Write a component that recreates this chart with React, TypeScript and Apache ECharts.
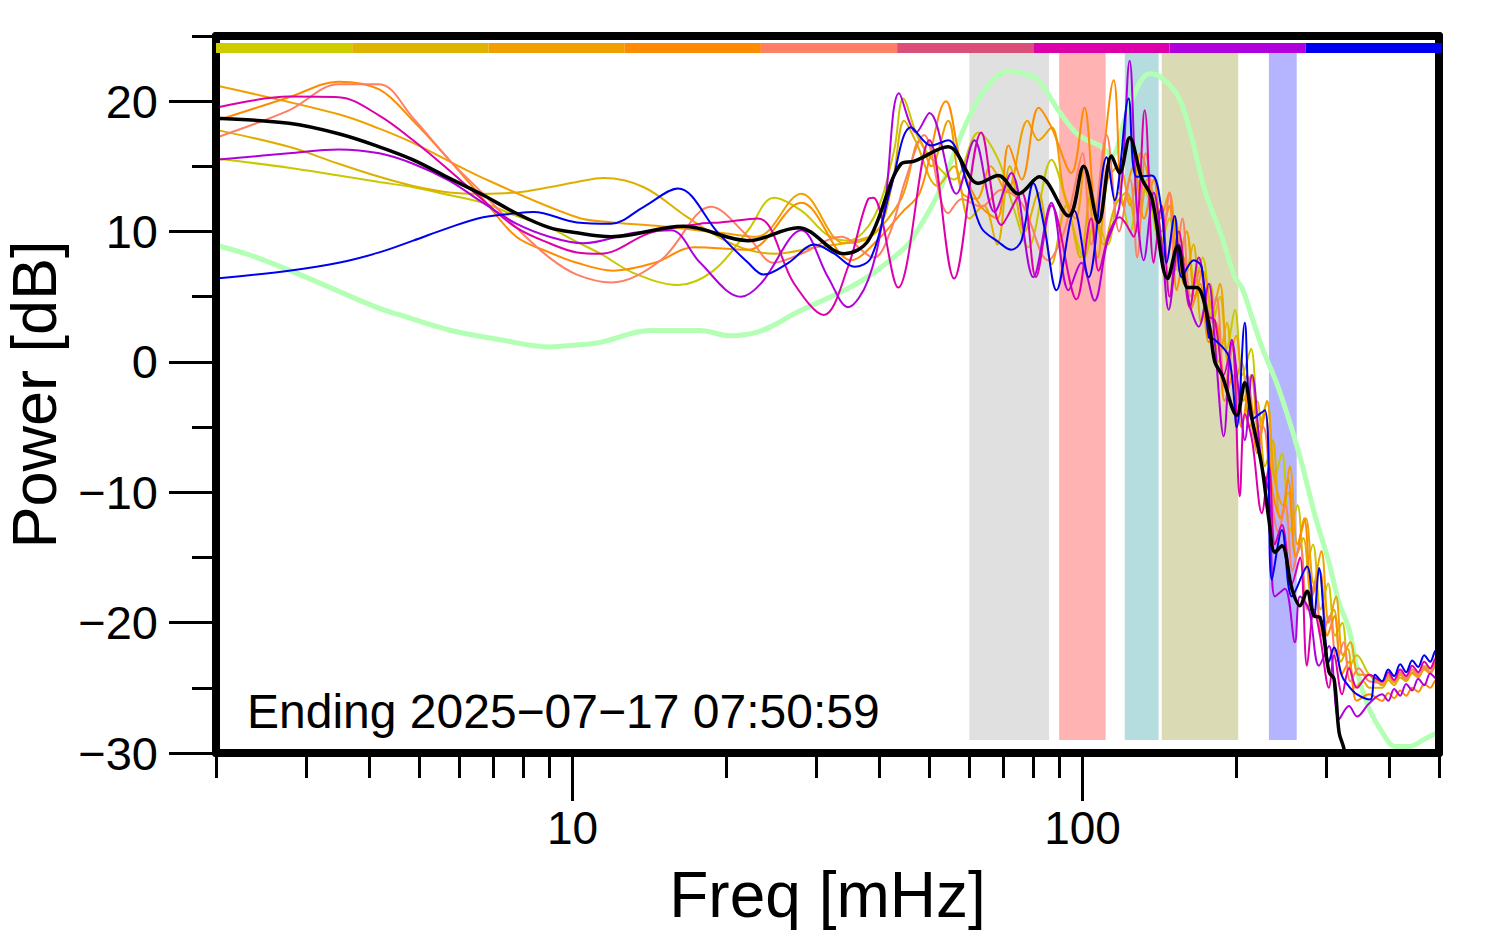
import React, { useEffect, useRef } from 'react';
import * as echarts from 'echarts';

const FONT = '"Liberation Sans", Arial, Helvetica, sans-serif';

// layout
const W = 1494;
const H = 952;
const GRID_LEFT = 216;
const GRID_RIGHT = 55;
const GRID_TOP = 36;
const GRID_BOTTOM = 199;

// axes
const X_MIN = 2;
const X_MAX = 500;
const Y_MIN = -30;
const Y_MAX = 25;
const X_TICKS_MINOR = [2, 3, 4, 5, 6, 7, 8, 9, 20, 30, 40, 50, 60, 70, 80, 90, 200, 300, 400, 500];
const X_TICKS_MAJOR = [10, 100];
const Y_TICKS_MAJOR = [-30, -20, -10, 0, 10, 20];
const Y_TICKS_MINOR = [-25, -15, -5, 5, 15, 25];

// shaded frequency bands [from, to] mHz
const BAND_RANGES = [[60, 86], [90, 111], [121, 141], [143, 202], [232, 263]];
const BAND_COLORS = ['#E0E0E0', '#FFB3B3', '#B5DCDF', '#DADAB5', '#B5B5FF'];
const BAND_BOTTOM = -29;
const BAND_TOP = 23.7;

// colour strip at the top (one per trace)
const STRIP_COLORS = ['#CCCC00', '#DDB300', '#F0A000', '#FF8C00', '#FF7F66', '#DA4F7A', '#DD00AA', '#B000DB', '#0000F0'];

const ANNOTATION = 'Ending 2025\u221207\u221217 07:50:59';

// high-frequency tail frequencies (shared)
const TAIL_F = [386.7, 397.6, 408.3, 419.6, 431.1, 443.0, 455.2, 467.7, 480.5, 493.7, 500];

const GREEN_PTS = [
  [2, 8.95], [2.33, 8.2], [2.92, 6.7], [4.12, 4.2], [4.59, 3.6], [5.73, 2.45], [7.22, 1.7], [9.01, 1.15], [10.2, 1.3],
  [11.35, 1.5], [14.2, 2.4], [17.8, 2.4], [20.4, 2.0], [23.1, 2.3], [25.6, 3.1], [27.2, 3.7], [34.1, 5.5], [38.5, 6.7],
  [44.1, 8.5], [46.1, 9.3], [52.1, 12.9], [58.7, 18.0], [64.2, 20.8], [71.6, 22.3], [78.3, 22.0], [82.0, 21.6],
  [89.7, 19.3], [98.2, 17.4], [109, 16.5], [114, 15.8], [123.1, 19.5], [135.4, 22.1], [142.9, 21.8], [154.4, 20.3],
  [163.7, 17.2], [173.6, 13.2], [187.6, 9.6], [198.9, 6.5], [205.3, 5.7], [215, 3.4], [224.7, 1.15], [242.7, -2.1],
  [265.7, -7.0], [285.7, -11.8], [304.3, -15.4], [318.4, -18.5], [333.1, -20.5], [348.5, -24.3], [364.7, -26.6],
  [386.7, -28.4], [410.2, -29.5], [437, -29.5], [469.8, -28.9], [500, -28.4]
];

const OLIVE_PTS = [
  [2, 15.6], [2.78, 14.9], [3.48, 14.3], [4.18, 13.8], [4.87, 13.4], [5.73, 12.8], [6.68, 12.2], [7.76, 11.2], [9.01, 10.3],
  [10.2, 9.2], [11.35, 8.3], [13.2, 6.8], [16.1, 5.9], [18.9, 7.0], [22.1, 10.1], [24.8, 12.6], [28.1, 11.6], [31.7, 9.7],
  [34.7, 9.3], [39, 11.1], [42.7, 16.2], [44.5, 20.2], [47.6, 17.2], [52, 15], [56, 14], [62.5, 17.6], [68.4, 15.5],
  [73, 12], [78.3, 8.8], [86.9, 15.5], [93.9, 11.6], [100.9, 8], [106, 11], [112, 9], [118, 13], [124, 10], [130, 14],
  [136, 12], [142, 9], [148, 11], [154, 7], [160, 10], [166, 6], [172, 8], [180, 3], [186, 5], [192, 1], [199, 4],
  [206, -1], [214, 1], [222, -5], [230, -3], [238, -9], [246, -7], [255, -13], [264, -11], [273, -16], [283, -14],
  [293, -19], [303, -17], [313, -21], [323, -20], [333, -23.5], [345, -22.5], [365, -24]
];
const OLIVE_TAIL = [-24.7, -24.1, -24.5, -23.9, -24.2, -23.6, -23.9, -23.3, -23.6, -23.0, -23.2];

const GOLD_PTS = [
  [2, 17.8], [2.78, 16.5], [3.48, 15.2], [4.18, 14.2], [4.87, 13.5], [5.73, 13.0], [6.68, 12.9], [7.76, 13.0], [9.01, 13.4],
  [10.2, 13.8], [11.5, 14.1], [13.8, 13.4], [16.8, 11.1], [19.5, 9.5], [22.1, 8.6], [25, 8.3], [30, 8.8], [35, 9.2],
  [39.7, 10.1], [42.5, 14], [44.7, 18.5], [47, 17], [52, 13.5], [56, 15], [60, 11], [64, 12], [68, 9], [72, 15],
  [77, 10], [82, 13], [87, 7.5], [93, 12], [99, 8], [104, 13], [110, 9], [116, 12], [122, 13], [128, 10], [134, 14],
  [140, 11], [146, 8], [152, 11], [158, 6], [165, 9], [171, 3], [178, 6], [185, 0], [192, 3], [198, -2], [205, 0],
  [213, -5], [220, -3], [228, -8], [236, -6], [244, -12], [253, -10], [262, -15], [271, -13.5], [281, -18], [291, -16],
  [301, -20], [311, -19], [321, -23], [331, -22], [342, -25], [355, -24.5], [365, -25]
];
const GOLD_TAIL = [-25.0, -24.4, -24.8, -24.2, -24.5, -23.9, -24.2, -23.6, -23.9, -23.3, -23.5];

const AMBER_PTS = [
  [2, 21.2], [3.48, 19.0], [4.18, 17.9], [4.87, 16.8], [6.68, 14.1], [10.2, 11.1], [12, 10.7], [14.9, 10.4], [19.5, 9.9],
  [23, 9.6], [28.1, 12.9], [34.1, 9.1], [38, 9.5], [44.1, 12.5], [48, 17], [50.5, 15], [54.5, 18.5], [58, 13],
  [62, 12.5], [66, 15], [71, 13], [78, 18.5], [82, 17], [87, 18], [92, 13], [97, 11], [101, 15], [107, 8], [112, 14],
  [118, 15], [124, 12], [130, 16], [136, 13.5], [142, 11], [148, 13], [154, 8], [160, 10], [166, 5], [172, 7], [180, 4],
  [186, 6], [193, 0], [200, 2], [207, -3], [214, -1], [222, -6], [230, -3], [238, -9], [247, -11], [255, -8],
  [264, -14], [274, -12], [284, -17], [294, -14.5], [304, -20], [314, -18], [324, -22.5], [335, -21.5], [348, -24], [365, -24]
];
const AMBER_TAIL = [-24.8, -24.2, -24.6, -24.0, -24.4, -23.8, -24.1, -23.5, -23.8, -23.2, -23.4];

const ORANGE_PTS = [
  [2, 18.5], [2.78, 20.3], [3.48, 21.5], [4.18, 20.9], [4.87, 18.5], [5.73, 15.5], [6.68, 12.5], [7.76, 9.6], [9.01, 8.4],
  [10.2, 7.6], [12, 7.0], [14.5, 7.6], [17.3, 8.8], [22.1, 8.6], [28.1, 12.2], [35.2, 7.8], [40, 9.5], [44.1, 11.4],
  [48, 13], [54, 20.0], [58, 15], [63, 12], [68, 11], [71.6, 16.6], [76, 14], [82, 19.5], [86.9, 18], [95.1, 14.5],
  [100.9, 19.5], [106, 12], [115.1, 21.6], [120, 12], [126, 15], [132, 11], [138, 14], [143, 10], [148, 12], [153, 5.5],
  [158, 8], [163, 4], [170, 6], [177, 1.5], [183, 3], [190, -3], [197, -1], [205, -5], [212, -2], [220, -7], [228, -4],
  [236, -10], [245, -12], [253, -9], [262, -15], [272, -12], [282, -18], [292, -16], [302, -21], [312, -19.5],
  [322, -24], [333, -23], [345, -26], [365, -25.5]
];
const ORANGE_TAIL = [-26.0, -25.4, -25.8, -25.2, -25.6, -25.0, -25.3, -24.7, -25.0, -24.4, -24.5];

const SALMON_PTS = [
  [2, 17.2], [2.78, 19.3], [3.48, 21.3], [4.18, 21.3], [4.87, 18.7], [5.73, 15.5], [6.68, 12.9], [7.76, 10.3], [9.01, 8.0],
  [10.2, 6.7], [11.9, 6.1], [14.9, 7.8], [18.7, 11.9], [22.1, 9.6], [24.8, 7.6], [28.1, 8.3], [33.6, 9.6], [39.0, 8.0],
  [42, 10], [45, 14], [48.9, 17.4], [54.5, 11.4], [58, 12.5], [63.3, 11.9], [69.3, 13.2], [75.9, 12.2], [85.7, 7.8],
  [92, 10], [96, 13], [100, 16], [104, 9], [111.5, 17.4], [118, 10], [124, 14], [128, 8], [133, 16], [138, 12],
  [143, 9], [148, 13], [152, 7], [157, 11], [163, 5], [170, 7], [177, 3], [183, 5], [190, -2], [197, 1], [203, -3],
  [210, -1], [218, -6], [226, -5], [234, -10], [242, -13], [250, -11], [258, -16], [267, -14], [276, -19], [285, -17],
  [295, -21], [305, -19.5], [315, -23], [325, -21.5], [335, -24.5], [348, -23.5], [365, -24.5]
];
const SALMON_TAIL = [-24.6, -24.0, -24.5, -23.8, -24.3, -23.6, -24.0, -23.4, -23.8, -23.1, -23.3];

const MAGENTA_PTS = [
  [2, 19.5], [2.78, 20.35], [3.48, 20.3], [4.18, 18.9], [4.87, 17.0], [5.73, 14.7], [6.68, 12.4], [7.76, 10.3], [9.01, 9.1],
  [10.2, 8.4], [11.35, 8.3], [14.2, 9.9], [17.8, 10.6], [19.5, 10.7], [23.1, 11.0], [27.2, 6.0], [31.1, 3.6], [34.7, 7.3],
  [38.0, 12.5], [38.9, 12.6], [43.5, 5.7], [50.1, 17.0], [56.0, 6.4], [63.3, 17.6], [69.3, 10.5], [75.9, 13], [81, 6.5],
  [87, 12], [97.3, 4.8], [104, 11], [107.5, 7.0], [113, 10], [118.2, 11.1], [125.9, 9.6], [132.4, 19.3], [137.9, 7.6],
  [142.9, 12], [148.2, 5.0], [154.4, 10], [162.3, 4.2], [169, 8], [176.8, 3.5], [181.7, 3.2], [189.2, -1], [196.2, 1.5],
  [203.4, -10.3], [208.1, -4], [215, -6], [224.7, -11.6], [232, -8], [238.4, -14], [246, -12.5], [257.4, -17],
  [266.9, -15], [275.5, -23.3], [284.4, -19], [292.2, -21], [304.3, -25], [311.3, -22.5], [322.8, -25.5], [333.1, -23.5],
  [345.4, -25], [364.7, -24]
];
const MAGENTA_TAIL = [-24.5, -23.8, -24.4, -23.6, -24.1, -23.3, -23.8, -23.0, -23.5, -22.7, -23.0];

const PURPLE_PTS = [
  [2, 15.5], [2.78, 16.0], [3.48, 16.3], [4.18, 16.0], [4.87, 15.2], [5.73, 13.9], [6.68, 12.2], [7.76, 10.6], [9.01, 9.6],
  [10.5, 9.1], [13.2, 9.9], [15.6, 10.1], [17.8, 7.6], [21.4, 5.0], [23.4, 6.0], [28.1, 10.1], [31.7, 6.5], [34.7, 4.2],
  [38.0, 6.3], [40.8, 11.5], [43.7, 20.6], [47.2, 17.6], [50.1, 19.1], [56.6, 12.9], [61.4, 17.0], [67.2, 11.5],
  [72.5, 14.5], [80.1, 6.5], [86.9, 12.2], [93.9, 5.5], [99.5, 7.6], [105.6, 4.7], [111.5, 9], [118.2, 12], [123.7, 23.1],
  [127.7, 12], [131.8, 7.8], [137.9, 13], [143, 9], [147.6, 4.0], [154.4, 9], [162, 4.5], [169, 2.7], [176.8, 6],
  [181.7, 1.5], [189.2, -5.7], [196.2, 1.7], [203.4, -3], [208.1, -6], [215, -1], [224.7, -8], [232, -10], [238.4, -18],
  [249.4, -17.4], [260.9, -21.5], [266.9, -18], [278, -19], [290.9, -23.3], [304.3, -21.8], [318.4, -27.4],
  [333.1, -26.4], [345.4, -27.2], [364.7, -26.2]
];
const PURPLE_TAIL = [-25.5, -26.0, -25.1, -25.6, -24.7, -25.2, -24.3, -24.8, -23.9, -24.3, -23.6];

const BLUE_PTS = [
  [2, 6.4], [2.78, 7.0], [3.48, 7.6], [4.18, 8.4], [4.87, 9.3], [5.73, 10.3], [6.68, 11.1], [7.76, 11.4], [8.38, 11.5],
  [10.2, 10.7], [11.9, 10.6], [13.8, 11.9], [16.1, 13.3], [19.3, 9.9], [22.1, 7.6], [23.7, 6.7], [26.5, 7.6], [29.8, 9.0],
  [32.6, 8.3], [35.7, 7.3], [38.5, 8.0], [42.2, 13.5], [46.1, 18.0], [50.5, 16.6], [54.5, 17.0], [59.7, 13.4],
  [63.3, 10.3], [68.4, 9.2], [72.5, 8.6], [75.9, 9.3], [80.1, 13.7], [84.2, 10.3], [88.9, 5.5], [96.4, 11.6],
  [102.8, 6.5], [111.5, 15.7], [115.6, 12.4], [123.1, 20.2], [127.7, 14.2], [136.7, 14.3], [142.9, 11.6], [146.2, 7.6],
  [151.6, 11.2], [156.5, 6.5], [165.2, 7.8], [171.2, 7.3], [176.8, 1.9], [181.7, 1.7], [193.6, 0.4], [200.7, -5.0],
  [208.1, 3.0], [215, -4.4], [227.8, -3.7], [235.1, -16.7], [246, -12.9], [257.4, -18.0], [275.5, -15.7],
  [284.4, -19.5], [290.9, -15.8], [304.3, -23.0], [311.3, -21.9], [322.8, -24.1], [333.1, -24.9], [345.4, -25.5],
  [366.4, -25.9], [374.8, -24.0]
];
const BLUE_TAIL = [-24.5, -23.6, -24.1, -23.2, -23.8, -22.9, -23.4, -22.5, -23.0, -22.1, -22.2];

const MEAN_PTS = [
  [2, 18.7], [2.78, 18.3], [3.48, 17.5], [4.18, 16.5], [4.87, 15.5], [5.73, 14.1], [6.68, 12.8], [7.76, 11.4], [9.01, 10.3],
  [10.2, 9.9], [11.9, 9.6], [16.5, 10.4], [22.1, 9.3], [27.7, 10.3], [34.1, 8.3], [38.0, 9.3], [44.1, 15.2], [46.8, 15.4],
  [54.5, 16.5], [62.5, 13.7], [68.4, 14.3], [74.9, 12.9], [82.3, 14.2], [93.9, 11.2], [100.5, 15.0], [107.5, 10.7],
  [114, 15.8], [118.2, 14.5], [123.7, 17.2], [130.6, 14.1], [136.7, 12.6], [146.9, 6.4], [153.7, 8.9], [160.8, 5.7],
  [167.5, 5.7], [176.8, 3.0], [181.7, 0.0], [187.6, -1.0], [200.7, -4.1], [208.1, -1.6], [215, -4.4], [224.7, -8.0],
  [232, -12.1], [238.4, -14.6], [246, -14.1], [257.4, -17.4], [266.9, -18.7], [275.5, -17.6], [284.4, -19.5],
  [292.2, -19.6], [304.3, -23.8], [311.3, -24.3], [318.4, -28.4], [325.7, -29.7], [333, -32]
];

const withTail = (pts: number[][], tail: number[]) =>
  pts.concat(TAIL_F.map((f, i) => [f, tail[i]]));

const TRACES = [
  { name: 'olive', color: '#C8C800', data: withTail(OLIVE_PTS, OLIVE_TAIL) },
  { name: 'gold', color: '#DDB000', data: withTail(GOLD_PTS, GOLD_TAIL) },
  { name: 'amber', color: '#F0A000', data: withTail(AMBER_PTS, AMBER_TAIL) },
  { name: 'orange', color: '#FF8C00', data: withTail(ORANGE_PTS, ORANGE_TAIL) },
  { name: 'salmon', color: '#FF7F66', data: withTail(SALMON_PTS, SALMON_TAIL) },
  { name: 'magenta', color: '#DD00AA', data: withTail(MAGENTA_PTS, MAGENTA_TAIL) },
  { name: 'purple', color: '#B000DB', data: withTail(PURPLE_PTS, PURPLE_TAIL) },
  { name: 'blue', color: '#0000F0', data: withTail(BLUE_PTS, BLUE_TAIL) },
];

const minusFmt = (v: number) => (v < 0 ? '\u2212' + Math.abs(v) : String(v));

export default function App() {
  const ref = useRef<HTMLDivElement>(null);
  useEffect(() => {
    if (!ref.current) return;
    const chart = echarts.init(ref.current, null, { renderer: 'svg' });
    const plotW = W - GRID_LEFT - GRID_RIGHT;
    const segW = (plotW + 3) / STRIP_COLORS.length;

    const lineBase = {
      type: 'line',
      showSymbol: false,
      smooth: 0.35,
      silent: true,
      clip: true,
      xAxisIndex: 0,
      yAxisIndex: 0,
    };

    const series: any[] = [
      {
        ...lineBase,
        name: 'bands',
        data: [],
        z: 1,
        markArea: {
          silent: true,
          data: BAND_RANGES.map((r, i) => [
            { xAxis: r[0], yAxis: BAND_BOTTOM, itemStyle: { color: BAND_COLORS[i], opacity: 1 } },
            { xAxis: r[1], yAxis: BAND_TOP },
          ]),
        },
      },
      {
        ...lineBase,
        name: 'reference',
        data: GREEN_PTS,
        z: 2,
        lineStyle: { color: '#B3FFB3', width: 5 },
      },
      ...TRACES.map((t) => ({
        ...lineBase,
        name: t.name,
        data: t.data,
        z: 3,
        lineStyle: { color: t.color, width: 2 },
      })),
      {
        ...lineBase,
        name: 'mean',
        data: MEAN_PTS,
        z: 4,
        lineStyle: { color: '#000000', width: 3.5 },
      },
    ];

    const tickStyle = { color: '#000', width: 3 };
    const frameLine = { show: true, onZero: false, lineStyle: { color: '#000', width: 8 } };
    const noLine = { show: false, onZero: false };
    const logAxisBase = { type: 'log', logBase: 10, min: X_MIN, max: X_MAX, splitLine: { show: false }, z: 10 };
    const valAxisBase = { type: 'value', min: Y_MIN, max: Y_MAX, splitLine: { show: false }, z: 10 };

    chart.setOption({
      animation: false,
      backgroundColor: '#ffffff',
      grid: {
        left: GRID_LEFT,
        right: GRID_RIGHT,
        top: GRID_TOP,
        bottom: GRID_BOTTOM,
        containLabel: false,
        outerBoundsMode: 'none',
      },
      xAxis: [
        {
          ...logAxisBase,
          position: 'bottom',
          axisLine: frameLine,
          axisTick: { show: true, customValues: X_TICKS_MINOR, length: 25, lineStyle: tickStyle },
          axisLabel: { show: false },
          name: 'Freq [mHz]',
          nameLocation: 'middle',
          nameGap: 110,
          nameTextStyle: { fontFamily: FONT, fontSize: 64, color: '#000' },
        },
        {
          ...logAxisBase,
          position: 'bottom',
          axisLine: noLine,
          axisTick: { show: true, customValues: X_TICKS_MAJOR, length: 48, lineStyle: tickStyle },
          axisLabel: {
            show: true,
            customValues: X_TICKS_MAJOR,
            fontFamily: FONT,
            fontSize: 46,
            color: '#000',
            margin: 52,
          },
        },
        {
          ...logAxisBase,
          position: 'top',
          axisLine: frameLine,
          axisTick: { show: false },
          axisLabel: { show: false },
        },
      ],
      yAxis: [
        {
          ...valAxisBase,
          position: 'left',
          axisLine: frameLine,
          axisTick: { show: true, customValues: Y_TICKS_MAJOR, length: 47, lineStyle: tickStyle },
          axisLabel: {
            show: true,
            customValues: Y_TICKS_MAJOR,
            formatter: minusFmt,
            fontFamily: FONT,
            fontSize: 47,
            color: '#000',
            margin: 58,
          },
          name: 'Power [dB]',
          nameLocation: 'middle',
          nameRotate: 90,
          nameGap: 151,
          nameTextStyle: { fontFamily: FONT, fontSize: 63, color: '#000' },
        },
        {
          ...valAxisBase,
          position: 'left',
          axisLine: noLine,
          axisTick: { show: true, customValues: Y_TICKS_MINOR, length: 24, lineStyle: tickStyle },
          axisLabel: { show: false },
        },
        {
          ...valAxisBase,
          position: 'right',
          axisLine: frameLine,
          axisTick: { show: false },
          axisLabel: { show: false },
        },
      ],
      graphic: [
        ...STRIP_COLORS.map((c, i) => ({
          type: 'rect',
          z: 100,
          silent: true,
          shape: { x: GRID_LEFT + i * segW, y: 43, width: segW, height: 10 },
          style: { fill: c },
        })),
        {
          type: 'text',
          z: 100,
          silent: true,
          left: 247,
          top: 687,
          style: { text: ANNOTATION, font: `48px ${FONT}`, fill: '#000' },
        },
      ],
      series,
    });
    return () => chart.dispose();
  }, []);

  return (
    <div
      ref={ref}
      style={{ position: 'fixed', left: 0, top: 0, width: W, height: H, background: '#fff' }}
    />
  );
}
